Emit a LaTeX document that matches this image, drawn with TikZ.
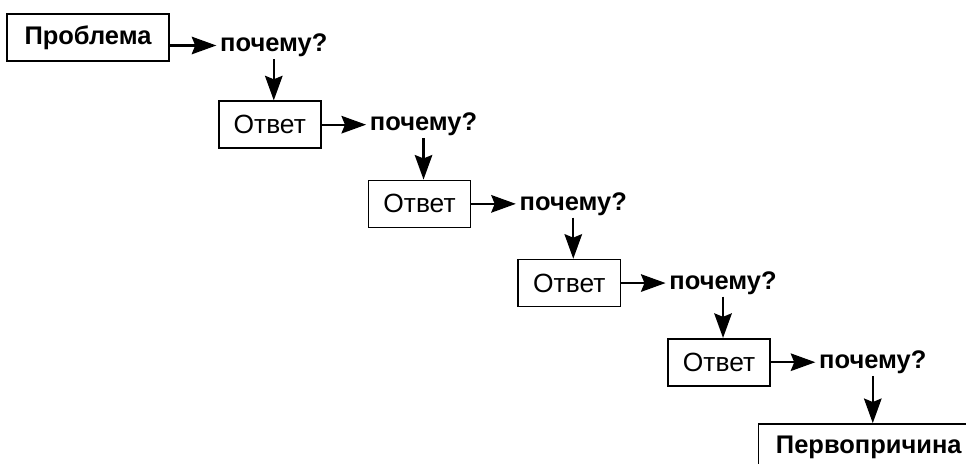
\documentclass[tikz,border=0pt]{standalone}
\usepackage{fontspec}
\setmainfont{Liberation Sans}
\usetikzlibrary{positioning}
\usetikzlibrary{arrows.meta}

\def\diagfont{\fontsize{15}{18}\selectfont}
\def\boldfont{\fontsize{14.5}{17.5}\selectfont\bfseries}

\tikzset{
	answer/.style={draw, rectangle, line width=0.9pt, minimum height=0.94cm, inner xsep=8.5pt, align=center, font=\diagfont},
	cause/.style={answer, inner xsep=10pt, font=\boldfont},
	why/.style={inner sep=0pt, font=\boldfont},
	flow/.style={line width=1.2pt, -{Stealth[length=14pt,width=10pt,inset=2pt]}}
}

\begin{document}
\begin{tikzpicture}
	\useasboundingbox (0,0) rectangle (19.32,-9.28);

	\def\gapx{0.96cm}
	\def\gapy{0.86cm}

	% problem
	\node [cause] at (1.76,-0.75) (a0){Проблема};
	\node [why, right=1.0cm of a0, yshift=-0.16cm] (q1){почему?};
	\draw [flow, shorten >=2pt] (a0.east |- q1.west) -- (q1.west);

	% answer -> why steps
	\foreach \i [count=\k from 2] in {1,...,4}
	{
		\node [answer, below=\gapy of q\i, xshift=-0.08cm] (a\i){Ответ};
		\node [why, right=\gapx of a\i] (q\k){почему?};
		\draw [flow, shorten <=1pt] (q\i.south) -- (q\i.south |- a\i.north);
		\draw [flow, shorten >=2pt] (a\i) -- (q\k);
	}

	% root cause
	\node [cause, below=\gapy+0.12cm of q5, xshift=-0.08cm] (root){Первопричина};
	\draw [flow, shorten <=1pt] (q5.south) -- (q5.south |- root.north);

\end{tikzpicture}
\end{document}
